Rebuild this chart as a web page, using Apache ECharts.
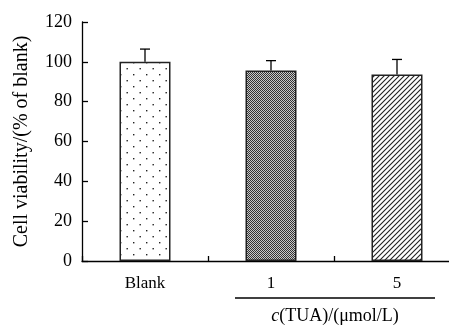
<!DOCTYPE html>
<html>
<head>
<meta charset="utf-8">
<script src="https://cdn.jsdelivr.net/npm/echarts@6/dist/echarts.min.js"></script>
<style>
  html, body { margin: 0; padding: 0; background: #fff; overflow: hidden; }
  /* a little wider than the window: the x axis runs off the right edge */
  #main { width: 460px; height: 326px; }
</style>
</head>
<body>
<div id="main"></div>
<script>
// data
const categories = ['Blank', '1', '5']
const viability = [100, 95.6, 93.6]
const viabilitySd = [6.4, 5.0, 7.6]
const yTicks = [0, 20, 40, 60, 80, 100, 120]

const serif = 'Liberation Serif, Times New Roman, serif'

// fill patterns for the three bars
function makeTile(w, h, draw) {
  const c = document.createElement('canvas')
  c.width = w
  c.height = h
  const ctx = c.getContext('2d')
  ctx.fillStyle = '#fff'
  ctx.fillRect(0, 0, w, h)
  draw(ctx)
  return c
}

const dotTile = makeTile(13, 12, function (ctx) {
  ctx.fillStyle = '#222'
  ctx.fillRect(3, 2, 1.4, 1.4)
  ctx.fillRect(9.5, 8, 1.4, 1.4)
})

const checkTile = makeTile(2, 2, function (ctx) {
  ctx.fillStyle = '#333'
  ctx.fillRect(0, 0, 1, 1)
  ctx.fillRect(1, 1, 1, 1)
  ctx.fillStyle = '#c8c8c8'
  ctx.fillRect(1, 0, 1, 1)
  ctx.fillRect(0, 1, 1, 1)
})

const hatchTile = makeTile(5, 5, function (ctx) {
  ctx.strokeStyle = '#222'
  ctx.lineWidth = 1.1
  ctx.beginPath()
  ctx.moveTo(-1, 6)
  ctx.lineTo(6, -1)
  ctx.moveTo(-1, 1)
  ctx.lineTo(1, -1)
  ctx.moveTo(4, 6)
  ctx.lineTo(6, 4)
  ctx.stroke()
})

const fills = [dotTile, checkTile, hatchTile].map(function (t) {
  return { image: t, repeat: 'repeat' }
})

const barData = viability.map(function (v, i) {
  return { value: v, itemStyle: { color: fills[i] } }
})

const errData = viability.map(function (v, i) {
  return [i, v, viabilitySd[i]]
})

const myChart = echarts.init(document.getElementById('main'))

const option = {
  animation: false,
  backgroundColor: '#fff',
  grid: {
    left: 82,
    top: 22,
    width: 378,
    height: 239,
  },
  xAxis: {
    type: 'category',
    data: categories,
    axisLine: { show: true, lineStyle: { color: '#000', width: 1.3 } },
    axisTick: { show: true, inside: true, length: 5, lineStyle: { color: '#000', width: 1.3 } },
    axisLabel: {
      color: '#000',
      fontFamily: serif,
      fontSize: 17,
      margin: 14,
    },
  },
  yAxis: {
    type: 'value',
    min: yTicks[0],
    max: yTicks[yTicks.length - 1],
    interval: yTicks[1] - yTicks[0],
    name: 'Cell viability/(% of blank)',
    nameLocation: 'middle',
    nameRotate: 90,
    nameGap: 50,
    nameTextStyle: { color: '#000', fontFamily: serif, fontSize: 20 },
    axisLine: { show: true, lineStyle: { color: '#000', width: 1.3 } },
    axisTick: { show: true, inside: true, length: 6, lineStyle: { color: '#000', width: 1.3 } },
    axisLabel: {
      color: '#000',
      fontFamily: serif,
      fontSize: 18,
      margin: 10,
    },
    splitLine: { show: false },
  },
  series: [
    {
      type: 'bar',
      data: barData,
      barWidth: 51,
      itemStyle: { borderColor: '#222', borderWidth: 1.5 },
    },
    {
      type: 'custom',
      data: errData,
      z: 3,
      renderItem: function (params, api) {
        const x = api.value(0)
        const mean = api.value(1)
        const sd = api.value(2)
        const base = api.coord([x, mean])
        const top = api.coord([x, mean + sd])
        const half = 5
        return {
          type: 'group',
          children: [
            {
              type: 'line',
              shape: { x1: base[0], y1: base[1], x2: top[0], y2: top[1] },
              style: { stroke: '#000', lineWidth: 1.3 },
            },
            {
              type: 'line',
              shape: { x1: top[0] - half, y1: top[1], x2: top[0] + half, y2: top[1] },
              style: { stroke: '#000', lineWidth: 1.3 },
            },
          ],
        }
      },
    },
  ],
  graphic: [
    {
      type: 'line',
      shape: { x1: 235, y1: 298, x2: 435, y2: 298 },
      style: { stroke: '#000', lineWidth: 1.3 },
    },
    {
      type: 'text',
      x: 335,
      y: 316,
      style: {
        text: '{i|c}(TUA)/(μmol/L)',
        align: 'center',
        verticalAlign: 'middle',
        fill: '#000',
        font: '18px ' + serif,
        rich: {
          i: { fontStyle: 'italic', fontFamily: serif, fontSize: 18, fill: '#000' },
        },
      },
    },
  ],
}

myChart.setOption(option)
</script>
</body>
</html>
